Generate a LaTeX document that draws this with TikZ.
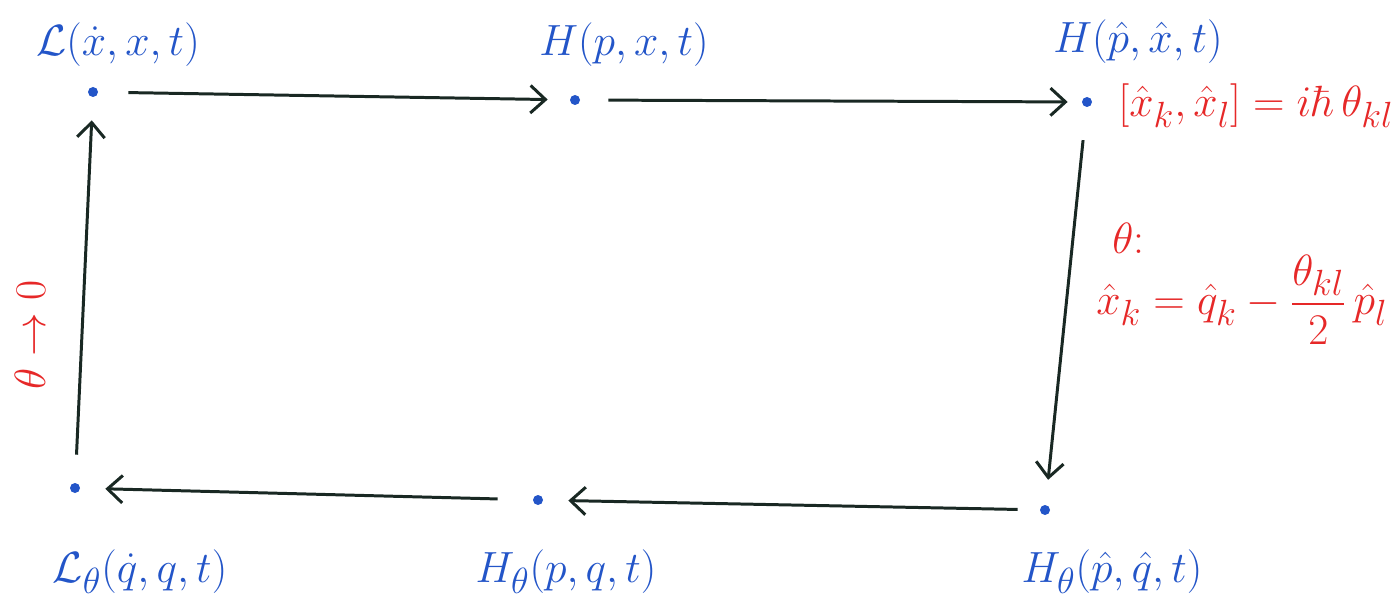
\documentclass[tikz,border=0pt]{standalone}
\usepackage{amsmath}
\usetikzlibrary{arrows.meta}
\definecolor{inkblue}{RGB}{35,85,200}
\definecolor{inkred}{RGB}{230,40,40}
\definecolor{inkdark}{RGB}{25,40,35}
\begin{document}
\begin{tikzpicture}[x=0.02cm,y=-0.02cm,
  dot/.style={circle,fill=inkblue,inner sep=0pt,minimum size=0.2cm},
  lbl/.style={text=inkblue,font=\Huge,inner sep=0pt},
  note/.style={text=inkred,font=\Huge,inner sep=0pt},
  conn/.style={draw=inkdark,line width=1.7pt,-{Straight Barb[length=0.3cm,width=0.55cm,line width=1.7pt]}}]
\useasboundingbox (0,0) rectangle (1395,604);
% dots
\node[dot] (A) at (93,92) {};
\node[dot] (B) at (575,100) {};
\node[dot] (C) at (1087,102) {};
\node[dot] (D) at (1045,510) {};
\node[dot] (E) at (538,500) {};
\node[dot] (F) at (75,488) {};
% labels
\node[lbl] (lA) at (118,45) {$\mathcal{L}(\dot{x},x,t)$};
\node[lbl] (lB) at (624,45) {$H(p,x,t)$};
\node[lbl] (lC) at (1138,42) {$H(\hat{p},\hat{x},t)$};
\node[lbl] (lD) at (1112,572) {$H_\theta(\hat{p},\hat{q},t)$};
\node[lbl] (lE) at (566,572) {$H_\theta(p,q,t)$};
\node[lbl] (lF) at (140,572) {$\mathcal{L}_\theta(\dot{q},q,t)$};
% red notes
\node[note,anchor=west] (comm) at (1118,106) {$[\hat{x}_k,\hat{x}_l]=i\hbar\,\theta_{kl}$};
\node[note,anchor=west] (th) at (1112,238) {$\theta$:};
\node[note,anchor=west] (map) at (1096,300) {$\hat{x}_k=\hat{q}_k-\dfrac{\theta_{kl}}{2}\,\hat{p}_l$};
\node[note,rotate=90] (lim) at (30,335) {$\theta\to0$};
% connectors
\draw[conn,shorten <=0.6cm,shorten >=0.44cm] (A) -- (B);
\draw[conn,shorten <=0.56cm,shorten >=0.28cm] (B) -- (C);
\draw[conn,shorten <=0.66cm,shorten >=0.5cm] (C) -- (D);
\draw[conn,shorten <=0.44cm,shorten >=0.5cm] (D) -- (E);
\draw[conn,shorten <=0.7cm,shorten >=0.5cm] (E) -- (F);
\draw[conn,shorten <=0.56cm,shorten >=0.46cm] (F) -- (A);
\end{tikzpicture}
\end{document}
